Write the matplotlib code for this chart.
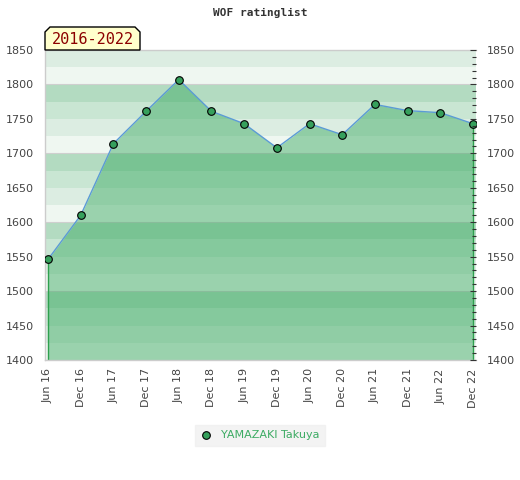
import matplotlib.pyplot as plt
import numpy as np
from matplotlib.patches import Polygon
from matplotlib.ticker import MultipleLocator

# Rating history (semi-annual lists)
periods = ["Jun 16", "Dec 16", "Jun 17", "Dec 17", "Jun 18", "Dec 18", "Jun 19",
           "Dec 19", "Jun 20", "Dec 20", "Jun 21", "Dec 21", "Jun 22", "Dec 22"]
ratings = [1546, 1610, 1714, 1761, 1807, 1761, 1743,
           1708, 1743, 1727, 1771, 1762, 1759, 1743]
player = "YAMAZAKI Takuya"
badge_text = "2016-2022"
title_text = "WOF ratinglist"

y_min, y_max = 1400, 1850
band_colors = ["#eff7f1", "#dcede2", "#c9e6d3", "#b3dbc1"]

W, H = 520, 480
fig = plt.figure(figsize=(W / 100, H / 100), dpi=100)
ax = fig.add_axes([45 / W, 1 - 360 / H, (476 - 45) / W, 310 / H])

x = np.arange(len(periods))
ax.set_xlim(-3 / 32.7, len(periods) - 1 + 3 / 32.7)
ax.set_ylim(y_min, y_max)

# background bands, 25 points each
for lo in range(y_min, y_max, 25):
    ax.axhspan(lo, lo + 25, color=band_colors[(lo % 100) // 25], lw=0, zorder=0)
for g in range(y_min, y_max + 1, 100):
    ax.axhline(g, color="#cfcfcf", lw=0.8, zorder=0.5)

ax.fill_between(x, ratings, y_min, color=(52 / 255, 167 / 255, 92 / 255), alpha=0.45, lw=0, zorder=1)
ax.vlines([x[0], x[-1]], y_min, [ratings[0], ratings[-1]], color="#2ea04e", lw=1, zorder=2)
ax.plot(x, ratings, color="#5b9bd5", lw=1.0, zorder=3)
ax.plot(x, ratings, ls="none", marker="o", ms=5.5, mfc="#36a05c", mec="black", mew=0.8, zorder=4,
        label=player)

ax.set_xticks(x)
ax.set_xticklabels(periods, rotation=90, fontsize=8, color="#444444")
ax.tick_params(axis="x", length=0, pad=6)
ax.yaxis.set_major_locator(MultipleLocator(50))
ax.tick_params(axis="y", length=0, labelsize=8, labelcolor="#444444", pad=8)

for s in ["left", "bottom", "top"]:
    ax.spines[s].set_color("#cccccc")
    ax.spines[s].set_linewidth(1)
ax.spines["right"].set_visible(False)

# right axis with ticks
ax2 = ax.twinx()
ax2.set_ylim(y_min, y_max)
ax2.yaxis.set_major_locator(MultipleLocator(50))
ax2.yaxis.set_minor_locator(MultipleLocator(10))
ax2.tick_params(axis="y", which="major", direction="in", length=4, width=0.8, color="#333333",
                labelsize=8, labelcolor="#444444", pad=8)
ax2.tick_params(axis="y", which="minor", direction="in", length=3, width=0.8, color="#333333")
for s in ax2.spines.values():
    s.set_visible(False)

fig.text(0.5, 1 - 13 / H, title_text, ha="center", va="center", family="DejaVu Sans Mono",
         fontweight="bold", fontsize=8, color="#333333")

# year badge
bx0, bx1, by0, by1, c = 45, 140, 50, 27, 5
pts = [(bx0, by0), (bx0, by1 + c), (bx0 + c, by1), (bx1 - c, by1), (bx1, by1 + c), (bx1, by0)]
pts = [(px / W, 1 - py / H) for px, py in pts]
fig.patches.append(Polygon(pts, closed=True, facecolor="#ffffcc", edgecolor="black", lw=1,
                           transform=fig.transFigure, zorder=5))
fig.text((bx0 + bx1) / 2 / W, 1 - 40 / H, badge_text, ha="center", va="center",
         family="DejaVu Sans Mono", fontsize=11, color="#8b0000", zorder=6)

leg = fig.legend(loc="center", bbox_to_anchor=(260 / W, 1 - 435.5 / H), fontsize=8, frameon=True,
                 fancybox=False, handlelength=1, handletextpad=0.8, borderpad=0.5,
                 labelcolor="#3cab63")
leg.get_frame().set_facecolor("#f0f0f0")
leg.get_frame().set_edgecolor("#f0f0f0")

fig.savefig("out.png", dpi=100)
